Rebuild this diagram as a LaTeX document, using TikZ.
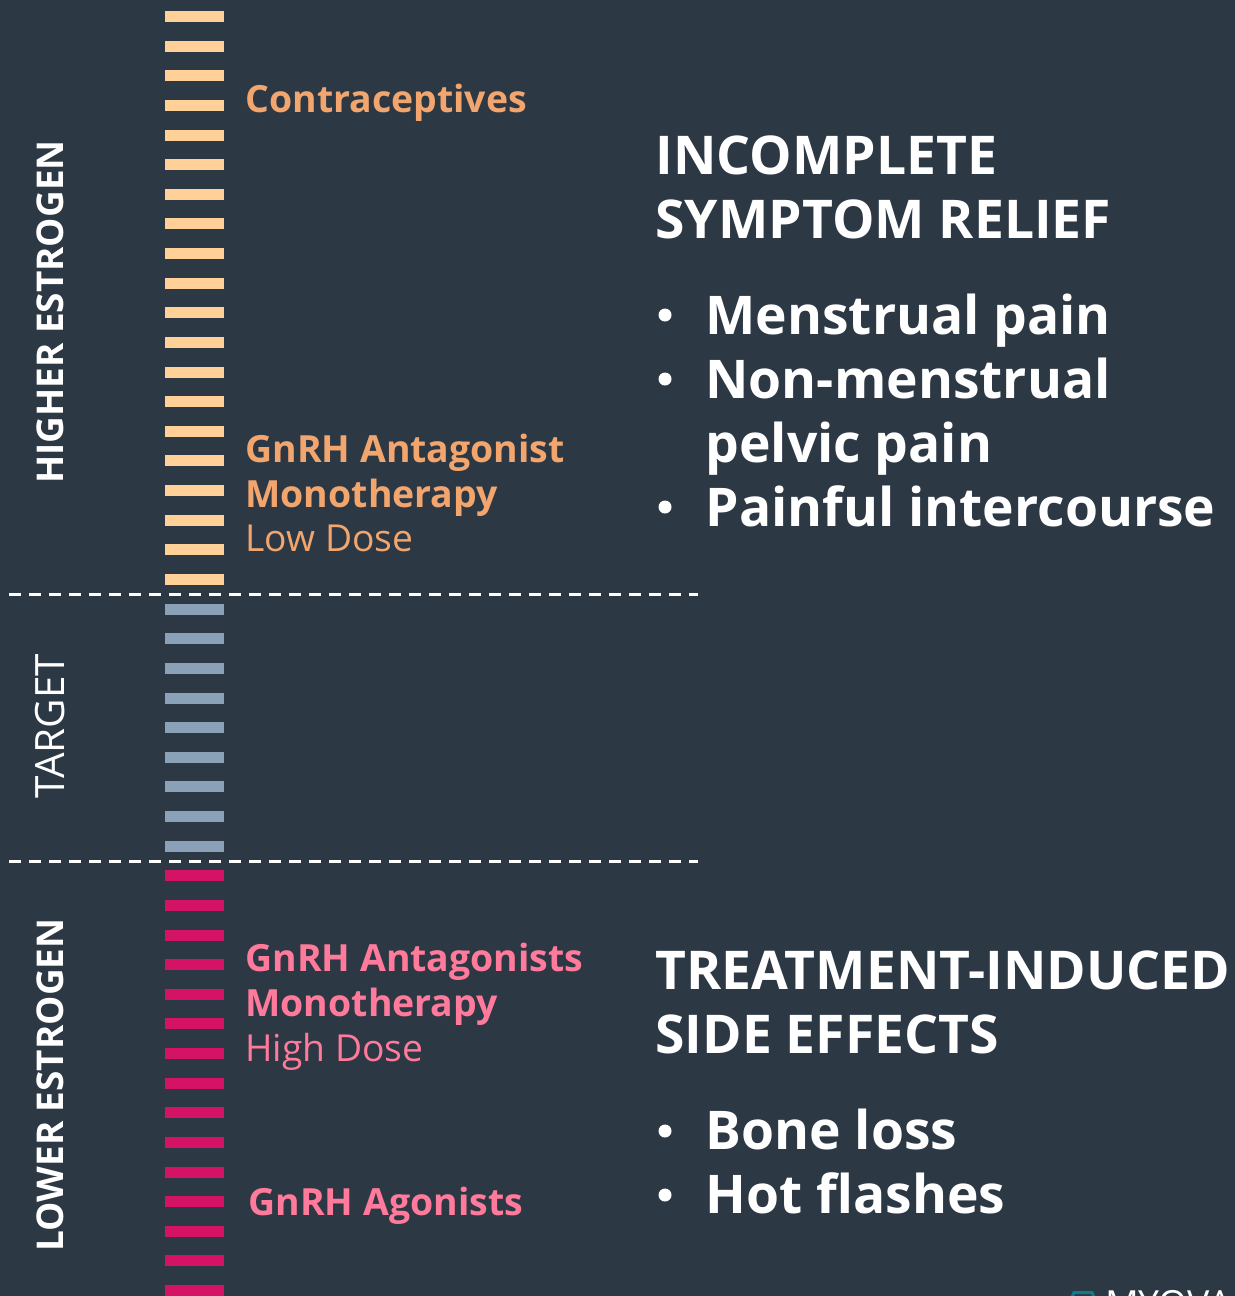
\documentclass[tikz,border=0pt]{standalone}
\usepackage{fontspec}
\setmainfont{Open Sans}
\definecolor{bgc}{HTML}{2D3845}
\definecolor{peachc}{HTML}{FFD199}
\definecolor{bluec}{HTML}{8BA1B7}
\definecolor{pinkc}{HTML}{D41367}
\definecolor{peacht}{HTML}{F2A66E}
\definecolor{pinkt}{HTML}{FF7A9B}
\definecolor{tealc}{HTML}{0E7C8C}
\tikzset{
 txt/.style={inner sep=0pt,outer sep=0pt,anchor=base west,align=left},
 head/.style={txt,text=white,font=\fontsize{26.72}{32}\selectfont\bfseries},
 item/.style={txt,text=white,font=\fontsize{26.68}{32}\selectfont\bfseries},
 lab/.style={txt,font=\fontsize{18.72}{22.5}\selectfont\bfseries},
 sub/.style={txt,font=\fontsize{18.6}{22.5}\selectfont},
 side/.style={inner sep=0pt,outer sep=0pt,anchor=base,rotate=90,text=white,font=\fontsize{18.45}{22}\selectfont\bfseries},
 divider/.style={draw=white,line width=1.5pt,dash pattern=on 6pt off 4pt},
}
\begin{document}
\begin{tikzpicture}[x=0.5pt,y=-0.5pt]
\useasboundingbox (0,0) rectangle (1235,1296);
\fill[bgc] (0,0) rectangle (1235,1296);
\foreach \i in {0,...,19}{\fill[peachc] (165,{11+29.63*\i}) rectangle (223.5,{22+29.63*\i});}
\foreach \i in {20,...,28}{\fill[bluec] (165,{11+29.63*\i}) rectangle (224,{22+29.63*\i});}
\foreach \i in {29,...,43}{\fill[pinkc] (165,{11+29.63*\i}) rectangle (223.5,{22+29.63*\i});}
\coordinate (d1a) at (9,594.5); \coordinate (d1b) at (698,594.5);
\coordinate (d2a) at (9,861); \coordinate (d2b) at (698,861);
\draw[divider] (d1a) -- (d1b);
\draw[divider] (d2a) -- (d2b);
\node[side] (hi) at (63.5,312) {HIGHER ESTROGEN};
\node[side,font=\fontsize{20.2}{24}\selectfont] (tg) at (64,726) {TARGET};
\node[side] (lo) at (63.5,1085) {LOWER ESTROGEN};
\node[lab,text=peacht] (c) at (245.5,112) {Contraceptives};
\node[lab,text=peacht] (a1) at (245.5,462) {GnRH Antagonist};
\node[lab,text=peacht] (a2) at (245.5,507) {Monotherapy};
\node[sub,text=peacht] (a3) at (245.5,551) {Low Dose};
\node[lab,text=pinkt] (b1) at (245.5,971) {GnRH Antagonists};
\node[lab,text=pinkt] (b2) at (245.5,1016) {Monotherapy};
\node[sub,text=pinkt] (b3) at (245.5,1061) {High Dose};
\node[lab,text=pinkt] (g) at (248.5,1215) {GnRH Agonists};
\node[head] (h1) at (655.5,174) {INCOMPLETE};
\node[head] (h2) at (655.5,238) {SYMPTOM RELIEF};
\node[item] (i1) at (705.5,334) {Menstrual pain};
\node[item] (i2) at (705.5,398) {Non-menstrual};
\node[item] (i3) at (705.5,462) {pelvic pain};
\node[item] (i4) at (705.5,526) {Painful intercourse};
\node[head] (h3) at (655.5,989) {TREATMENT-INDUCED};
\node[head] (h4) at (655.5,1053) {SIDE EFFECTS};
\node[item] (j1) at (705.5,1149.5) {Bone loss};
\node[item] (j2) at (705.5,1213.5) {Hot flashes};
\foreach \y in {315,379,507,1131,1195}{\fill[white] (665,\y) circle (6.5);}
\begin{scope}
\clip (0,0) rectangle (1235,1296);
\draw[tealc,line width=1.5pt] (1070,1302) -- (1074,1292.5) -- (1092,1292.5) -- (1096,1302);
\node[txt,text=white,font=\fontsize{18.7}{22}\selectfont] (m) at (1105,1317) {MYOVA};
\end{scope}
\end{tikzpicture}
\end{document}
